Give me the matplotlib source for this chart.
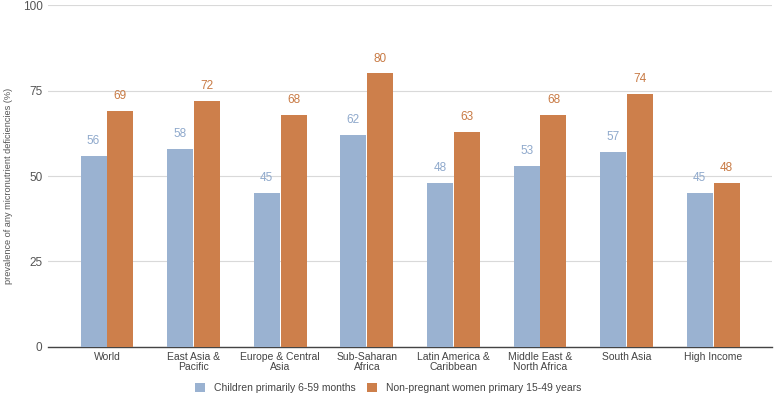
import matplotlib
matplotlib.use("Agg")
import matplotlib.pyplot as plt
import numpy as np

categories = ["World", "East Asia &\nPacific", "Europe & Central\nAsia", "Sub-Saharan\nAfrica",
              "Latin America &\nCaribbean", "Middle East &\nNorth Africa", "South Asia", "High Income"]
children = [56, 58, 45, 62, 48, 53, 57, 45]
women = [69, 72, 68, 80, 63, 68, 74, 48]
series_names = ["Children primarily 6-59 months", "Non-pregnant women primary 15-49 years"]
yticks = [0, 25, 50, 75, 100]

plt.rcParams['font.family'] = ['Liberation Sans', 'DejaVu Sans']
blue = "#9ab2d1"
orange = "#cd7f4b"
blue_txt = "#8fa9cc"
orange_txt = "#c87a44"

fig = plt.figure(figsize=(7.76, 3.96), dpi=100)
ax = fig.add_axes([0.062, 0.124, 0.933, 0.863])
x = np.arange(len(categories))
w = 0.30
off = 0.155
b1 = ax.bar(x - off, children, w, color=blue, label=series_names[0], zorder=3)
b2 = ax.bar(x + off, women, w, color=orange, label=series_names[1], zorder=3)
for xi, v in zip(x, children):
    ax.text(xi - off, v + 2.6, str(v), ha='center', va='bottom', fontsize=8.5, color=blue_txt)
for xi, v in zip(x, women):
    ax.text(xi + off, v + 2.6, str(v), ha='center', va='bottom', fontsize=8.5, color=orange_txt)

ax.set_xlim(-0.68, 7.68)
ax.set_ylim(0, 100)
ax.set_yticks(yticks)
ax.set_yticklabels([str(t) for t in yticks], fontsize=8.5, color="#555555")
ax.set_xticks(x)
ax.set_xticklabels(categories, fontsize=7.5, color="#444444", linespacing=1.0)
ax.tick_params(axis='x', length=0, pad=4)
ax.tick_params(axis='y', length=0, pad=4)
ax.grid(axis='y', color="#d9d9d9", linewidth=0.8, zorder=0)
for s in ["top", "right", "left"]:
    ax.spines[s].set_visible(False)
ax.spines["bottom"].set_color("#444444")
ax.spines["bottom"].set_linewidth(1.0)
ax.set_ylabel("prevalence of any micronutrient deficiencies (%)", fontsize=6.6, color="#555555")
ax.yaxis.set_label_coords(-0.049, 0.47)

fig.legend(handles=[b1, b2], labels=series_names, loc='center', bbox_to_anchor=(0.5, 0.02),
           ncol=2, frameon=False, fontsize=7.5, handlelength=1.0, handleheight=1.0,
           columnspacing=1.1, handletextpad=0.8, labelcolor="#444444", borderpad=0)
fig.savefig("out.png", dpi=100)
